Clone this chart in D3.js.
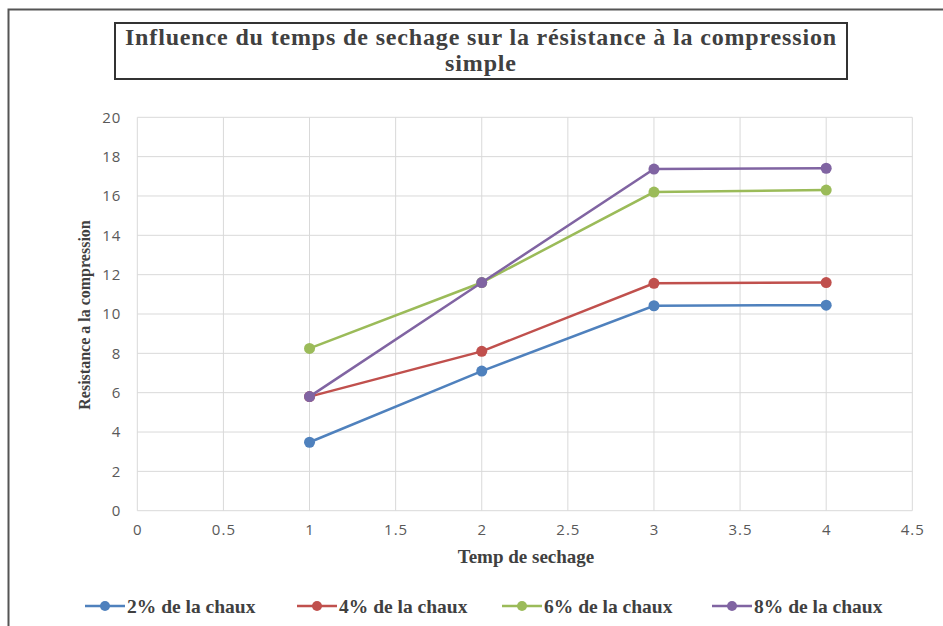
<!doctype html>
<html>
<head>
<meta charset="utf-8">
<title>Influence du temps de sechage</title>
<script src="https://d3js.org/d3.v7.min.js"></script>
<style>
  body { margin: 0; background: #fff; }
  svg { display: block; }
  .tick text { font-family: "Open Sans", sans-serif; font-size: 15px; fill: #595959; letter-spacing: 1px; }
  .serif { font-family: "Liberation Serif", "Times New Roman", serif; font-weight: bold; fill: #404040; }
</style>
</head>
<body>
<div id="chart"></div>
<script>
// data
const xVals = [1, 2, 3, 4];
const seriesNames = ["2% de la chaux", "4% de la chaux", "6% de la chaux", "8% de la chaux"];
const seriesColors = ["#4F81BD", "#C0504D", "#9BBB59", "#8064A2"];
const chaux2 = [3.48, 7.1, 10.42, 10.45];
const chaux4 = [5.8, 8.1, 11.56, 11.6];
const chaux6 = [8.25, 11.6, 16.2, 16.3];
const chaux8 = [5.8, 11.6, 17.37, 17.41];
const xTicks = [0, 0.5, 1, 1.5, 2, 2.5, 3, 3.5, 4, 4.5];
const yTicks = [0, 2, 4, 6, 8, 10, 12, 14, 16, 18, 20];

const allSeries = [chaux2, chaux4, chaux6, chaux8];

var W = 943, H = 626;
var margin = {top: 117.3, left: 137.3, right: 943 - 912.3, bottom: 626 - 510.7};
var width = W - margin.left - margin.right,
    height = H - margin.top - margin.bottom;

var svg = d3.select("#chart").append("svg")
  .attr("width", W)
  .attr("height", H);

// outer frame (top + left edges only)
svg.append("path")
  .attr("d", "M8.5,626 L8.5,9.5 L943,9.5")
  .attr("fill", "none")
  .attr("stroke", "#555")
  .attr("stroke-width", 2);

// title box
svg.append("rect")
  .attr("x", 115).attr("y", 23)
  .attr("width", 732).attr("height", 56)
  .attr("fill", "#fff")
  .attr("stroke", "#333")
  .attr("stroke-width", 2);

var title = svg.append("text")
  .attr("class", "serif")
  .attr("text-anchor", "middle")
  .style("font-size", "24px")
  .style("letter-spacing", "0.85px");
title.append("tspan").attr("x", 481).attr("y", 45)
  .text("Influence du temps de sechage sur la résistance à la compression");
title.append("tspan").attr("x", 481).attr("y", 71)
  .text("simple");

var g = svg.append("g")
  .attr("transform", "translate(" + margin.left + "," + margin.top + ")");

var x = d3.scaleLinear().domain([0, 4.5]).range([0, width]);
var y = d3.scaleLinear().domain([0, 20]).range([height, 0]);

// grid
g.append("g")
  .selectAll("line.h")
  .data(yTicks)
  .enter().append("line")
  .attr("x1", 0).attr("x2", width)
  .attr("y1", d => y(d)).attr("y2", d => y(d))
  .attr("stroke", "#d9d9d9");

g.append("g")
  .selectAll("line.v")
  .data(xTicks)
  .enter().append("line")
  .attr("y1", 0).attr("y2", height)
  .attr("x1", d => x(d)).attr("x2", d => x(d))
  .attr("stroke", "#d9d9d9");

// axes (labels only)
var xAxis = g.append("g")
  .attr("transform", "translate(0," + height + ")")
  .call(d3.axisBottom(x).tickValues(xTicks).tickSize(0).tickPadding(14).tickFormat(d3.format("")));
xAxis.select(".domain").remove();

var yAxis = g.append("g")
  .call(d3.axisLeft(y).tickValues(yTicks).tickSize(0).tickPadding(16));
yAxis.select(".domain").remove();

// axis titles
svg.append("text")
  .attr("class", "serif")
  .attr("text-anchor", "middle")
  .attr("x", 526).attr("y", 563)
  .style("font-size", "19px")
  .text("Temp de sechage");

svg.append("text")
  .attr("class", "serif")
  .attr("text-anchor", "middle")
  .attr("transform", "translate(90,315) rotate(-90)")
  .style("font-size", "16px")
  .text("Resistance a la compression");

// lines + markers
var line = d3.line()
  .x((d, i) => x(xVals[i]))
  .y(d => y(d));

var series = g.selectAll(".series")
  .data(allSeries)
  .enter().append("g")
  .attr("class", "series");

series.append("path")
  .attr("d", d => line(d))
  .attr("fill", "none")
  .attr("stroke", (d, i) => seriesColors[i])
  .attr("stroke-width", 2.5);

series.each(function(d, i) {
  d3.select(this).selectAll("circle")
    .data(d)
    .enter().append("circle")
    .attr("cx", (v, j) => x(xVals[j]))
    .attr("cy", v => y(v))
    .attr("r", 5.5)
    .attr("fill", seriesColors[i]);
});

// legend
var legendX = [85, 297, 502, 712];
var legend = svg.selectAll(".legend")
  .data(seriesNames)
  .enter().append("g")
  .attr("class", "legend")
  .attr("transform", (d, i) => "translate(" + legendX[i] + ",606)");

legend.append("line")
  .attr("x1", 0).attr("x2", 40)
  .attr("stroke", (d, i) => seriesColors[i])
  .attr("stroke-width", 2.5);
legend.append("circle")
  .attr("cx", 20).attr("r", 5)
  .attr("fill", (d, i) => seriesColors[i]);
legend.append("text")
  .attr("class", "serif")
  .attr("x", 42).attr("dy", "0.35em")
  .style("font-size", "19.5px")
  .text(d => d);
</script>
</body>
</html>
